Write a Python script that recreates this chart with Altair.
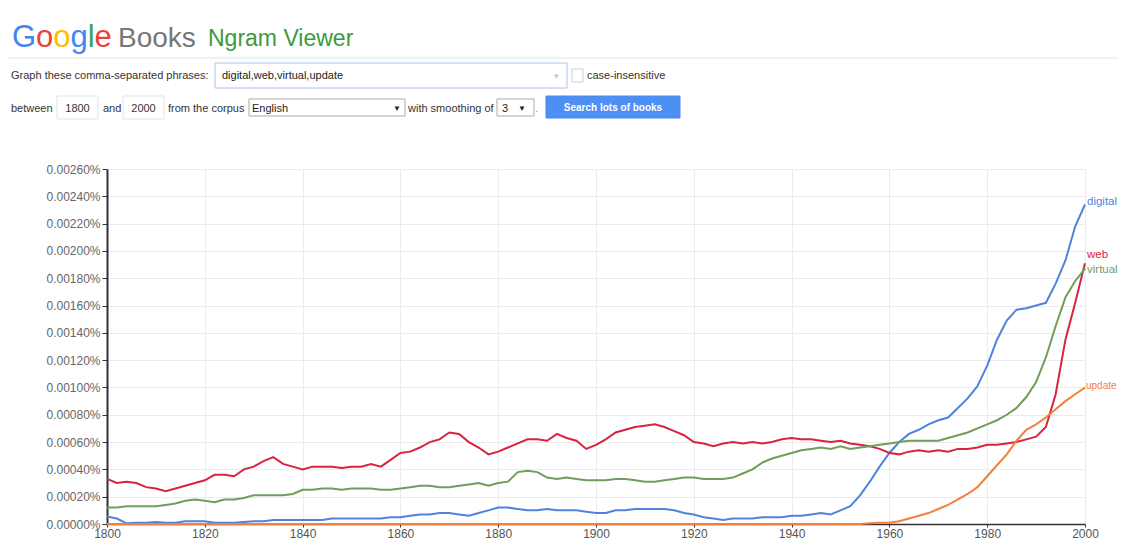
import altair as alt
import pandas as pd

# ---------------- data ----------------
YEARS = list(range(1800, 2001, 2))
TERMS = ["digital", "web", "virtual", "update"]
COLORS = ["#4f83dc", "#d8243f", "#6f9e5c", "#f2803c"]

DIGITAL = [
    0.000055, 0.00004, 0.000005, 0.00001, 0.00001,
    0.000015, 0.00001, 0.00001, 0.00002, 0.00002,
    0.00002, 0.00001, 0.00001, 0.00001, 0.000015,
    0.00002, 0.00002, 0.00003, 0.00003, 0.00003,
    0.00003, 0.00003, 0.00003, 0.00004, 0.00004,
    0.00004, 0.00004, 0.00004, 0.00004, 0.00005,
    0.00005, 0.00006, 0.00007, 0.00007, 0.00008,
    0.00008, 0.00007, 0.00006, 0.00008, 0.00010,
    0.00012, 0.00012, 0.00011, 0.00010, 0.00010,
    0.00011, 0.00010, 0.00010, 0.00010, 0.00009,
    0.00008, 0.00008, 0.00010, 0.00010, 0.00011,
    0.00011, 0.00011, 0.00011, 0.00010, 0.00008,
    0.00007, 0.00005, 0.00004, 0.00003, 0.00004,
    0.00004, 0.00004, 0.00005, 0.00005, 0.00005,
    0.00006, 0.00006, 0.00007, 0.00008, 0.00007,
    0.00010, 0.00013, 0.00021, 0.00031, 0.00042,
    0.00052, 0.00060, 0.00066, 0.00069, 0.00073,
    0.00076, 0.00078, 0.00085, 0.00092, 0.00101,
    0.00116, 0.00135, 0.00149, 0.00157, 0.00158,
    0.00160, 0.00162, 0.00176, 0.00193, 0.00218,
    0.00234,
]
WEB = [
    0.00033, 0.00030, 0.00031, 0.00030, 0.00027,
    0.00026, 0.00024, 0.00026, 0.00028, 0.00030,
    0.00032, 0.00036, 0.00036, 0.00035, 0.00040,
    0.00042, 0.00046, 0.00049, 0.00044, 0.00042,
    0.00040, 0.00042, 0.00042, 0.00042, 0.00041,
    0.00042, 0.00042, 0.00044, 0.00042, 0.00047,
    0.00052, 0.00053, 0.00056, 0.00060, 0.00062,
    0.00067, 0.00066, 0.00060, 0.00056, 0.00051,
    0.00053, 0.00056, 0.00059, 0.00062, 0.00062,
    0.00061, 0.00066, 0.00063, 0.00061, 0.00055,
    0.00058, 0.00062, 0.00067, 0.00069, 0.00071,
    0.00072, 0.00073, 0.00071, 0.00068, 0.00065,
    0.00060, 0.00059, 0.00057, 0.00059, 0.00060,
    0.00059, 0.00060, 0.00059, 0.00060, 0.00062,
    0.00063, 0.00062, 0.00062, 0.00061, 0.00060,
    0.00061, 0.00059, 0.00058, 0.00057, 0.00055,
    0.00052, 0.00051, 0.00053, 0.00054, 0.00053,
    0.00054, 0.00053, 0.00055, 0.00055, 0.00056,
    0.00058, 0.00058, 0.00059, 0.00060, 0.00062,
    0.00064, 0.00071, 0.00095, 0.00135, 0.00162,
    0.00191,
]
VIRTUAL = [
    0.00012, 0.00012, 0.00013, 0.00013, 0.00013,
    0.00013, 0.00014, 0.00015, 0.00017, 0.00018,
    0.00017, 0.00016, 0.00018, 0.00018, 0.00019,
    0.00021, 0.00021, 0.00021, 0.00021, 0.00022,
    0.00025, 0.00025, 0.00026, 0.00026, 0.00025,
    0.00026, 0.00026, 0.00026, 0.00025, 0.00025,
    0.00026, 0.00027, 0.00028, 0.00028, 0.00027,
    0.00027, 0.00028, 0.00029, 0.00030, 0.00028,
    0.00030, 0.00031, 0.00038, 0.00039, 0.00038,
    0.00034, 0.00033, 0.00034, 0.00033, 0.00032,
    0.00032, 0.00032, 0.00033, 0.00033, 0.00032,
    0.00031, 0.00031, 0.00032, 0.00033, 0.00034,
    0.00034, 0.00033, 0.00033, 0.00033, 0.00034,
    0.00037, 0.00040, 0.00045, 0.00048, 0.00050,
    0.00052, 0.00054, 0.00055, 0.00056, 0.00055,
    0.00057, 0.00055, 0.00056, 0.00057, 0.00058,
    0.00059, 0.00060, 0.00061, 0.00061, 0.00061,
    0.00061, 0.00063, 0.00065, 0.00067, 0.00070,
    0.00073, 0.00076, 0.00080, 0.00085, 0.00093,
    0.00104, 0.00122, 0.00145, 0.00166, 0.00178,
    0.00187,
]
UPDATE = [
    0.0, 0.0, 0.0, 0.0, 0.0,
    0.0, 0.0, 0.0, 0.0, 0.0,
    0.0, 0.0, 0.0, 0.0, 0.0,
    0.0, 0.0, 0.0, 0.0, 0.0,
    0.0, 0.0, 0.0, 0.0, 0.0,
    0.0, 0.0, 0.0, 0.0, 0.0,
    0.0, 0.0, 0.0, 0.0, 0.0,
    0.0, 0.0, 0.0, 0.0, 0.0,
    0.0, 0.0, 0.0, 0.0, 0.0,
    0.0, 0.0, 0.0, 0.0, 0.0,
    0.0, 0.0, 0.0, 0.0, 0.0,
    0.0, 0.0, 0.0, 0.0, 0.0,
    0.0, 0.0, 0.0, 0.0, 0.0,
    0.0, 0.0, 0.0, 0.0, 0.0,
    0.0, 0.0, 0.0, 0.0, 0.0,
    0.0, 0.0, 0.0, 0.000005, 0.00001,
    0.00001, 0.00002, 0.00004, 0.00006, 0.00008,
    0.00011, 0.00014, 0.00018, 0.00022, 0.00027,
    0.00035, 0.00043, 0.00051, 0.00061, 0.00069,
    0.00073, 0.00078, 0.00084, 0.00090, 0.00095,
    0.00100,
]

X_TICKS = [1800, 1820, 1840, 1860, 1880, 1900, 1920, 1940, 1960, 1980, 2000]
Y_TICKS = [0.0, 0.0002, 0.0004, 0.0006, 0.0008, 0.0010, 0.0012,
           0.0014, 0.0016, 0.0018, 0.0020, 0.0022, 0.0024, 0.0026]

SERIES = {"digital": DIGITAL, "web": WEB, "virtual": VIRTUAL, "update": UPDATE}
rows = []
for term in TERMS:
    vals = SERIES[term]
    assert len(vals) == len(YEARS), term
    for yr, v in zip(YEARS, vals):
        rows.append({"year": yr, "value": v, "term": term})
df = pd.DataFrame(rows)

# ---------------- layout constants ----------------
FONT = "Liberation Sans"
PAGE_L, PAGE_T = 8, 8
PLOT_L, PLOT_T, PLOT_R, PLOT_B = 107, 169, 1085, 524
W = PLOT_R - PLOT_L
H = PLOT_B - PLOT_T
TOTAL_W, TOTAL_H = 1110, 534
PAD = {
    "left": PLOT_L - PAGE_L,
    "top": PLOT_T - PAGE_T,
    "right": TOTAL_W - (PLOT_L - PAGE_L) - W,
    "bottom": TOTAL_H - (PLOT_T - PAGE_T) - H,
}

one = pd.DataFrame({"k": [0]})


def px(x):
    return alt.value(x - PLOT_L)


def py(y):
    return alt.value(y - PLOT_T)


def txt(s, x, y, size=11, color="#333333", align="left", weight="normal",
        font=FONT, baseline="alphabetic"):
    return alt.Chart(one).mark_text(
        text=s, align=align, baseline=baseline, fontSize=size, color=color,
        fontWeight=weight, font=font
    ).encode(x=px(x), y=py(y))


def box(x1, y1, x2, y2, fill="#ffffff", stroke="#d9d9d9", sw=1):
    return alt.Chart(one).mark_rect(
        fill=fill, stroke=stroke, strokeWidth=sw
    ).encode(x=px(x1), x2=px(x2), y=py(y1), y2=py(y2))


ui = []
# header logo
g_letters = [("G", 12, "#4285F4"), ("o", 36.1, "#EA4335"), ("o", 53.3, "#FBBC05"),
             ("g", 70.5, "#4285F4"), ("l", 87.7, "#34A853"), ("e", 94.6, "#EA4335")]
for ch, x, c in g_letters:
    ui.append(txt(ch, x, 47, size=31, color=c))
ui.append(txt("Books", 118, 47, size=28, color="#777777"))
ui.append(txt("Ngram Viewer", 208, 46, size=23, color="#3b9b3b"))
# separator line
ui.append(alt.Chart(one).mark_rule(color="#e3e3e3", strokeWidth=1).encode(
    x=px(PAGE_L), x2=px(PAGE_L + TOTAL_W), y=py(58)))
# row 1
ui.append(txt("Graph these comma-separated phrases:", 11, 79))
ui.append(box(215, 63, 567, 88, stroke="#a9c4ea"))
ui.append(txt("digital,web,virtual,update", 222, 79, color="#222222"))
ui.append(txt("▾", 556, 79, size=9, color="#c8c8c8", align="center"))
ui.append(box(572, 69, 583, 82, stroke="#cfcfcf"))
ui.append(txt("case-insensitive", 587, 79))
# row 2
ui.append(txt("between", 11, 112))
ui.append(box(57, 96, 98, 119, stroke="#e3e3e3"))
ui.append(txt("1800", 77.5, 112, align="center"))
ui.append(txt("and", 103, 112))
ui.append(box(123, 96, 164, 119, stroke="#e3e3e3"))
ui.append(txt("2000", 143.5, 112, align="center"))
ui.append(txt("from the corpus", 168, 112))
ui.append(box(249, 99, 405, 116, stroke="#a9a9a9"))
ui.append(txt("English", 252, 112, color="#222222"))
ui.append(txt("▼", 397, 111, size=8, color="#222222", align="center"))
ui.append(txt("with smoothing of", 408, 112))
ui.append(box(497, 99, 534, 116, stroke="#a9a9a9"))
ui.append(txt("3", 502, 112, color="#222222"))
ui.append(txt("▼", 522, 111, size=8, color="#222222", align="center"))
ui.append(txt(".", 535, 112, color="#999999"))
ui.append(box(546, 96, 680, 118, fill="#4d8ff5", stroke="#4a89ee"))
ui.append(txt("Search lots of books", 613, 111, size=10, color="#ffffff",
              align="center", weight="bold"))

# ---------------- main chart ----------------
color = alt.Color("term:N", scale=alt.Scale(domain=TERMS, range=COLORS), legend=None)
xenc = alt.X("year:Q", scale=alt.Scale(domain=[1800, 2000], nice=False, zero=False),
             axis=alt.Axis(values=X_TICKS, tickCount=len(X_TICKS), format="d",
                           title=None, grid=True,
                           gridColor="#ebebeb", domainColor="#333333", domainWidth=1.5,
                           tickColor="#333333", tickSize=3, labelFontSize=12,
                           labelColor="#555555", labelPadding=1, labelFont=FONT,
                           labelFlush=False, labelOverlap=False))
yenc = alt.Y("value:Q", scale=alt.Scale(domain=[0, 0.0026], nice=False),
             axis=alt.Axis(values=Y_TICKS, tickCount=len(Y_TICKS),
                           labelExpr="format(datum.value, '.5f') + '%'",
                           title=None, grid=True, gridColor="#ebebeb",
                           domainColor="#333333", domainWidth=2, tickColor="#333333",
                           tickSize=5, labelFontSize=12, labelColor="#666666",
                           labelPadding=2, labelFont=FONT, labelOverlap=False,
                           labelFlush=False))

lines = alt.Chart(df).mark_line(strokeWidth=2).encode(
    x=xenc, y=yenc, color=color, detail="term:N")

end = df[df["year"] == YEARS[-1]]
label_dy = {"digital": -3, "web": -8, "virtual": 1, "update": -1}
label_size = {"digital": 11.5, "web": 11.5, "virtual": 11.5, "update": 10}
label_dx = {"digital": 2, "web": 2, "virtual": 2, "update": 1}
labels = []
for term, c in zip(TERMS, COLORS):
    labels.append(
        alt.Chart(end[end["term"] == term]).mark_text(
            align="left", baseline="middle", dx=label_dx[term], dy=label_dy[term],
            fontSize=label_size[term], font=FONT, color=c
        ).encode(x="year:Q", y="value:Q", text="term:N")
    )

chart = alt.layer(*ui, lines, *labels).properties(
    width=W, height=H, padding=PAD,
    autosize=alt.AutoSizeParams(type="none"),
    background="#ffffff",
).configure_view(stroke=None)

chart.save("out.html", embed_options={"renderer": "svg", "actions": False})
